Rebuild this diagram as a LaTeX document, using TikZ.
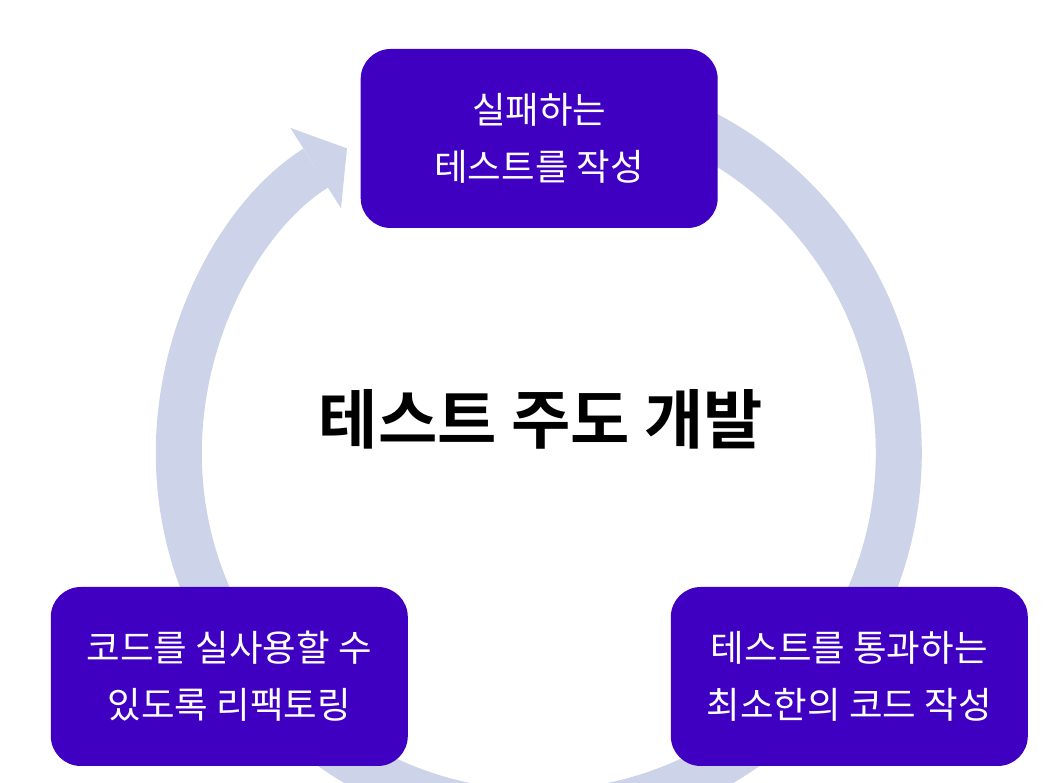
\documentclass[tikz,border=0pt]{standalone}
\usepackage{fontspec}
\usepackage{xcolor}
\usetikzlibrary{arrows.meta}
\newfontfamily\kofont[BoldFont={Noto Sans CJK KR Bold}]{Noto Sans CJK KR}
\definecolor{ringgray}{RGB}{205,211,232}
\definecolor{boxpurple}{RGB}{64,0,194}

\begin{document}
\begin{tikzpicture}[x=1pt,y=1pt,
    stepbox/.style={rectangle,rounded corners=30pt,fill=boxpurple,text=white,
      minimum width=357pt,minimum height=179pt,align=center,
      font=\kofont\fontsize{36.5}{57}\selectfont},
    cycle/.style={draw=ringgray,line width=46pt,
      -{Triangle[length=37pt,width=95pt,line width=0pt]}}]
  \useasboundingbox (0,0) rectangle (1050,783);
  \coordinate (ring) at (538.8,330);
  % cycle ring, drawn first so the boxes cover it
  \draw[cycle] ([shift={(90:360)}]ring) arc[start angle=90,end angle=-237.8,radius=360];
  \node[stepbox] (red)      at (539.2,644.5) {실패하는\\테스트를 작성};
  \node[stepbox] (green)    at (849.3,106.5) {테스트를 통과하는\\최소한의 코드 작성};
  \node[stepbox] (refactor) at (229.3,106.5) {코드를 실사용할 수\\있도록 리팩토링};
  \node[font=\kofont\bfseries\fontsize{64.5}{76}\selectfont] (title) at (541,364) {테스트 주도 개발};
\end{tikzpicture}
\end{document}
